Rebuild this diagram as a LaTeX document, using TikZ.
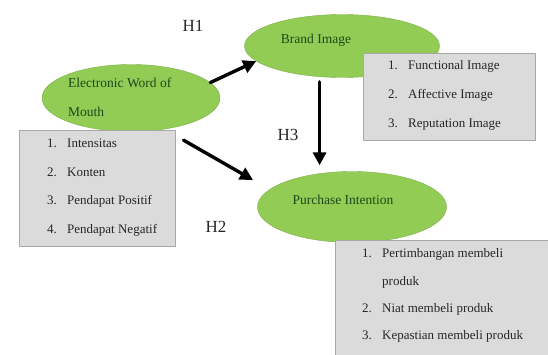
\documentclass[tikz,border=0pt]{standalone}
\usepackage{fontspec}
\setmainfont{Liberation Serif}
\usetikzlibrary{shapes.geometric,arrows.meta}

\definecolor{leafgreen}{RGB}{146,204,84}
\definecolor{darkleaf}{RGB}{30,72,26}
\definecolor{boxgray}{RGB}{219,219,219}
\definecolor{boxline}{RGB}{168,168,168}

\tikzset{
  varnode/.style={ellipse,fill=leafgreen,draw=leafgreen!85!black,inner sep=0pt},
  vartext/.style={text=darkleaf,font=\fontsize{13.5}{29}\selectfont,align=left,inner sep=0pt},
  listbox/.style={rectangle,fill=boxgray,draw=boxline,line width=0.8pt,anchor=north west,inner sep=0pt},
  listtext/.style={text=black!85,font=\fontsize{13}{#1}\selectfont,align=left,inner sep=0pt,anchor=north west},
  hyplabel/.style={text=black!85,font=\fontsize{17}{20}\selectfont,inner sep=0pt},
  effect/.style={line width=3.4pt,-{Triangle[length=13pt,width=13pt]}}
}
\newcommand{\num}[1]{\makebox[20pt][l]{#1}}

\begin{document}
\begin{tikzpicture}[x=1pt,y=-1pt,line cap=round,line join=round]
\useasboundingbox (0,0) rectangle (548,355);

% variables
\node[varnode,minimum width=178pt,minimum height=67pt] (ewom) at (131,98) {};
\node[varnode,minimum width=195pt,minimum height=63pt] (brand) at (342,46) {};
\node[varnode,minimum width=189pt,minimum height=71pt] (purchase) at (352,207) {};

\node[vartext,anchor=west] (ewomtext) at (68,97.5) {Electronic Word of\\Mouth};
\node[vartext] (brandtext) at (316,40) {Brand Image};
\node[vartext] (purchasetext) at (343,200) {Purchase Intention};

% indicator boxes
\node[listbox,minimum width=156pt,minimum height=116pt] (ewombox) at (19,130) {};
\node[listbox,minimum width=172pt,minimum height=87pt] (brandbox) at (363,53) {};
\node[listbox,minimum width=214pt,minimum height=116pt] (purchasebox) at (335,240) {};

\node[listtext=28.7] (ewomlist) at (47,138.5) {\num{1.}Intensitas\\\num{2.}Konten\\\num{3.}Pendapat Positif\\\num{4.}Pendapat Negatif};
\node[listtext=29] (brandlist) at (388,60.5) {\num{1.}Functional Image\\\num{2.}Affective Image\\\num{3.}Reputation Image};
\node[listtext=27.3] (purchaselist) at (362,248.5) {\num{1.}Pertimbangan membeli\\\num{}produk\\\num{2.}Niat membeli produk\\\num{3.}Kepastian membeli produk};

% hypotheses
\draw[effect] (ewom.11) -- (brand.190);
\draw[effect,shorten <=22pt,shorten >=19pt] (ewom.-43) -- (purchase.168);
\draw[effect,shorten <=5pt,shorten >=6pt] (brand.234) -- (brand.234 |- purchase.north);

\node[hyplabel] (h1) at (193,26) {H1};
\node[hyplabel] (h2) at (216,227) {H2};
\node[hyplabel] (h3) at (288,135) {H3};

\end{tikzpicture}
\end{document}
